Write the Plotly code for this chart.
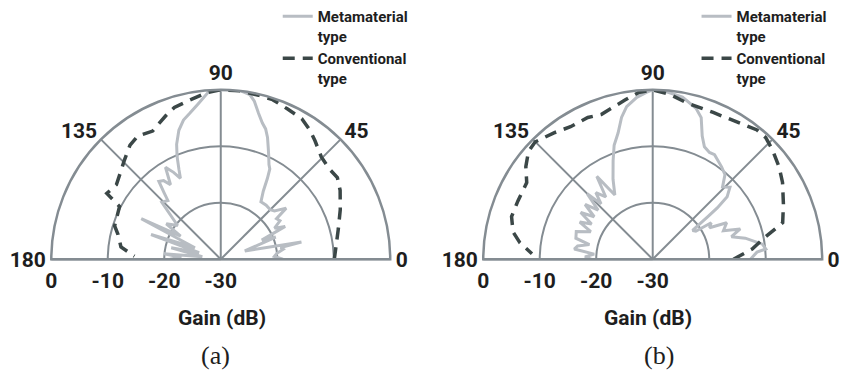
import plotly.graph_objects as go

# ---------------- data ----------------
# (a) Metamaterial type
meta_a_angle = [0, 3, 6, 9, 11, 12, 19, 22, 25, 27, 30, 33, 36, 38, 42, 45, 50, 55, 58, 60,
                61.5, 63, 65, 67, 69, 71, 73, 75.5, 78, 80, 83, 87, 90, 94, 98.5, 102, 105,
                108, 111, 113, 115, 116.5, 118.5, 121, 124, 126, 128.5, 130.5, 132, 136,
                142, 147, 150, 153, 156, 160.5, 163, 167, 172, 174.5, 177, 180]
meta_a_gain = [-19, -20.5, -20, -18.8, -19.2, -15.4, -25.5, -19.5, -22, -17.2, -19, -17.5,
               -17.8, -15.3, -17.2, -17.6, -17.5, -17.6, -15.8, -13.5, -11.8, -11.2, -9.9,
               -8.5, -6.9, -5.6, -4.8, -3.3, -1.4, -0.4, 0, 0, 0, -0.2, -2.3, -3.6, -4.5,
               -6, -8.2, -10.2, -12.5, -14, -12.5, -11, -14.1, -12.8, -12.4, -14.6, -16,
               -15.5, -20.3, -18.5, -21.8, -14.2, -25, -16.9, -26, -21, -26.7, -19.9, -23, -21]

# (a) Conventional type
conv_a_angle = [0, 6, 14.5, 22.5, 30, 35, 40, 45.5, 51.5, 55.5, 60, 66, 72, 77, 83.5, 90,
                95, 101, 107, 111, 118, 124, 128.5, 134.5, 139, 144.5, 150, 152.5, 159,
                162.5, 166.5, 173, 178]
conv_a_gain = [-9.9, -9.5, -8.5, -7.1, -5.6, -4.8, -5.0, -4.6, -3.2, -2.2, -1.3, -0.9, -0.3,
               -0.2, 0, 0, -0.45, -1.3, -1.9, -2.8, -4.3, -3.7, -4.2, -5.6, -6.5, -7.3,
               -6.7, -9.8, -10.2, -10.3, -11.3, -12.2, -14.7]

# (b) Metamaterial type
meta_b_angle = [0, 3.9, 5.2, 7.8, 12.8, 16, 19.1, 22, 26.3, 29, 32, 33, 35.8, 37.7, 38.5,
                40, 43, 46, 49.5, 53.3, 59.4, 62, 65.3, 68.1, 71.1, 74, 79.6, 85, 88, 90,
                92, 95.6, 99.7, 102.4, 105.3, 108.7, 111.9, 116.4, 120.5, 124, 127, 130.5,
                133, 135, 138, 141, 144, 147, 150, 153, 156, 160, 164.7, 167, 170, 172.6,
                175, 178, 180]
meta_b_gain = [-12.7, -11.5, -9.9, -10.4, -13.2, -15.5, -13.6, -16.5, -15.4, -18.5, -17.8,
               -20.9, -21.3, -17.6, -15.4, -12.8, -11.3, -12.2, -10.3, -9.6, -8.5, -8.6,
               -8.1, -6.5, -3.5, -2.2, -0.8, -0.3, -0.2, 0, -0.4, -1.2, -2.6, -4.3, -6.8,
               -8.7, -11.2, -14.2, -16.8, -12.3, -16.2, -14.5, -16.6, -13.6, -17, -14.6,
               -17.2, -14.8, -17.5, -15.5, -18, -15.6, -15.9, -18.5, -16.5, -16, -19.6,
               -18, -19.1]

# (b) Conventional type
conv_b_angle = [0, 5.9, 11.3, 15.7, 22.8, 30.6, 36.1, 42.4, 47.1, 51.1, 58.5, 67.6, 77.4,
                84.4, 88.5, 90, 94.9, 99.9, 104, 109.6, 114.6, 121.8, 128, 135.1, 139.1,
                143.9, 148.7, 156.6, 163.2, 168.9, 172.9, 177.4]
conv_b_gain = [-15.7, -12.3, -9.6, -6.1, -4.9, -3.3, -2.3, -1.3, -0.6, -0.6, -1.5, -1.9,
               -1.7, -0.6, -0.2, 0, -0.4, -1.4, -2.1, -2.8, -2.4, -2.4, -1.6, -0.6, -0.9,
               -2.2, -3.9, -4.0, -3.9, -4.8, -6.3, -8.6]

angle_ticks = [0, 45, 90, 135, 180]
angle_labels = ["0", "45", "90", "135", "180"]
gain_ticks = [-30, -20, -10, 0]
gain_labels = ["-30", "-20", "-10", "0"]
series_names = ["Metamaterial<br>type", "Conventional<br>type"]

# ---------------- style ----------------
W, H = 845, 375
FONT = "Roboto, Liberation Sans, Arial, sans-serif"
GRID = "#848c92"
META_C = "#b8bdc3"
CONV_C = "#3b4747"
TXT = "#1e1e1e"
TICKFONT = dict(family=FONT, size=21, color=TXT, weight=700)

# panel geometry (pixels): centre x, baseline y, radius
PANELS = {"a": (220.5, 261.5, 174), "b": (664, 261.5, 174)}
LABEL_RAISE = -4  # position of the gain-scale line relative to the baseline


def px_x(v):
    return v / W


def px_y(v):
    return 1 - v / H


def polar_layout(cx, cy, R):
    return dict(
        domain=dict(x=[px_x(cx - R), px_x(cx + R)], y=[px_y(cy), px_y(cy - R)]),
        sector=[0, 180],
        bgcolor="white",
        radialaxis=dict(range=[-30, 0], tickvals=gain_ticks, angle=180,
                        showticklabels=False, showline=True, ticks="",
                        linecolor=GRID, linewidth=2, gridcolor=GRID, gridwidth=2),
        angularaxis=dict(tickvals=angle_ticks, ticktext=angle_labels,
                         direction="counterclockwise", rotation=0, showline=True,
                         linecolor=GRID, linewidth=2.5, gridcolor=GRID, gridwidth=2,
                         ticks="", tickfont=TICKFONT),
    )


def gain_axis(cx, cy, R):
    # horizontal gain scale along the 180-degree radius (0 dB at the rim, -30 dB at the centre)
    return dict(domain=[px_x(cx - R), px_x(cx)], range=[0, -30], tickvals=gain_ticks,
                ticktext=gain_labels, showgrid=False, zeroline=False, showline=False,
                ticks="", tickfont=TICKFONT, fixedrange=True)


def base_axis(cy):
    return dict(domain=[px_y(cy - LABEL_RAISE), px_y(cy - LABEL_RAISE - 10)], range=[0, 1],
                visible=False, fixedrange=True)


fig = go.Figure()
for sub, leg, ma, mg, ca, cg in [("polar", "legend", meta_a_angle, meta_a_gain, conv_a_angle, conv_a_gain),
                                 ("polar2", "legend2", meta_b_angle, meta_b_gain, conv_b_angle, conv_b_gain)]:
    fig.add_trace(go.Scatterpolar(theta=ma, r=mg, mode="lines", name=series_names[0],
                                  line=dict(color=META_C, width=3), subplot=sub, legend=leg))
    fig.add_trace(go.Scatterpolar(theta=ca, r=cg, mode="lines", name=series_names[1],
                                  line=dict(color=CONV_C, width=3.5, dash="12px,8px"),
                                  subplot=sub, legend=leg))

# empty traces so that the two gain scales are drawn
for xa, ya in [("x", "y"), ("x2", "y2")]:
    fig.add_trace(go.Scatter(x=[None], y=[None], xaxis=xa, yaxis=ya, mode="markers",
                             showlegend=False, hoverinfo="skip"))

legend_common = dict(xanchor="left", yanchor="top", valign="top", bgcolor="rgba(0,0,0,0)",
                     font=dict(family=FONT, size=15, color=TXT, weight=700),
                     tracegroupgap=0, borderwidth=0)

ca_, ya_, ra_ = PANELS["a"]
cb_, yb_, rb_ = PANELS["b"]


def label(text, x, y, font):
    return dict(text=text, x=px_x(x), y=px_y(y), xref="paper", yref="paper",
                xanchor="center", yanchor="middle", showarrow=False, font=font)


GAIN_FONT = dict(family=FONT, size=21, color=TXT, weight=700)
CAP_FONT = dict(family="Liberation Serif, serif", size=26, color=TXT)

fig.update_layout(
    width=W, height=H, margin=dict(l=0, r=0, t=0, b=0),
    paper_bgcolor="white", plot_bgcolor="rgba(0,0,0,0)",
    polar=polar_layout(ca_, ya_, ra_),
    polar2=polar_layout(cb_, yb_, rb_),
    xaxis=gain_axis(ca_, ya_, ra_), yaxis=base_axis(ya_),
    xaxis2=dict(anchor="y2", **gain_axis(cb_, yb_, rb_)), yaxis2=dict(anchor="x2", **base_axis(yb_)),
    legend=dict(x=px_x(279), y=1, **legend_common),
    legend2=dict(x=px_x(709), y=1, **legend_common),
    annotations=[
        label("Gain (dB)", 222, 318, GAIN_FONT),
        label("Gain (dB)", 659, 318, GAIN_FONT),
        label("(a)", 215, 355, CAP_FONT),
        label("(b)", 670, 355, CAP_FONT),
    ],
)

# the page's default body margin would shift the figure; remove it, and hide the mode bar
fig.write_html("out.html",
               config={"displayModeBar": False},
               post_script="document.body.style.margin='0';"
                           "document.documentElement.style.margin='0';")
